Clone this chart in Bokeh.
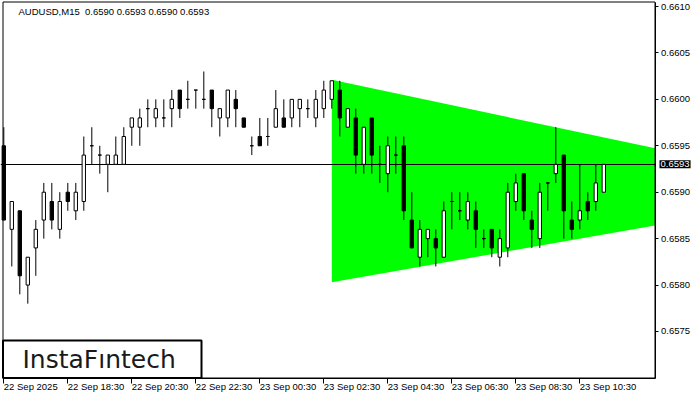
from bokeh.plotting import figure
from bokeh.models import (Range1d, FixedTicker, PrintfTickFormatter, Label,
                          BoxAnnotation, ColumnDataSource, LinearAxis)
from bokeh.embed import file_html
from bokeh.resources import INLINE

# ---------------- data (AUDUSD, M15) ----------------
opens = [0.6595, 0.6586, 0.6588, 0.6580, 0.6584, 0.6587, 0.6589, 0.6586, 0.6590, 0.6588,
         0.6589, 0.6595, 0.6594, 0.6593, 0.6593, 0.6593, 0.6597, 0.6597, 0.6599, 0.6598,
         0.6598, 0.6599, 0.6601, 0.6600, 0.6601, 0.6600, 0.6601, 0.6598, 0.6598, 0.6600,
         0.6598, 0.6595, 0.6596, 0.6596, 0.6597, 0.6598, 0.6598, 0.6599, 0.6599, 0.6598,
         0.6599, 0.6600, 0.6601, 0.6597, 0.6598, 0.6593, 0.6598, 0.6593, 0.6592, 0.6594,
         0.6595, 0.6587, 0.6583, 0.6585, 0.6585, 0.6583, 0.6589, 0.6588, 0.6587, 0.6588,
         0.6585, 0.6586, 0.6583, 0.6584, 0.6589, 0.6592, 0.6587, 0.6585, 0.6591, 0.6592,
         0.6594, 0.6587, 0.6587, 0.6589, 0.6589, 0.6590]
highs = [0.6597, 0.6589, 0.6588, 0.6583, 0.6587, 0.6591, 0.6591, 0.6590, 0.6591, 0.6591,
         0.6596, 0.6597, 0.6595, 0.6594, 0.6596, 0.6597, 0.6598, 0.6599, 0.6600, 0.6600,
         0.6600, 0.6601, 0.6601, 0.6602, 0.6601, 0.6603, 0.6601, 0.6599, 0.6601, 0.6601,
         0.6598, 0.6596, 0.6598, 0.6598, 0.6601, 0.6600, 0.6600, 0.6600, 0.6600, 0.6601,
         0.6602, 0.6602, 0.6602, 0.6599, 0.6599, 0.6597, 0.6598, 0.6595, 0.6596, 0.6596,
         0.6596, 0.6590, 0.6587, 0.6586, 0.6586, 0.6589, 0.6590, 0.6590, 0.6590, 0.6589,
         0.6586, 0.6586, 0.6586, 0.6591, 0.6592, 0.6592, 0.6588, 0.6591, 0.6591, 0.6597,
         0.6594, 0.6589, 0.6593, 0.6590, 0.6593, 0.6593]
lows = [0.6587, 0.6582, 0.6579, 0.6578, 0.6581, 0.6585, 0.6586, 0.6585, 0.6588, 0.6587,
        0.6588, 0.6593, 0.6592, 0.6590, 0.6593, 0.6593, 0.6595, 0.6595, 0.6597, 0.6597,
        0.6597, 0.6597, 0.6598, 0.6599, 0.6599, 0.6599, 0.6597, 0.6596, 0.6597, 0.6597,
        0.6597, 0.6594, 0.6595, 0.6595, 0.6597, 0.6597, 0.6597, 0.6597, 0.6598, 0.6597,
        0.6598, 0.6599, 0.6596, 0.6597, 0.6592, 0.6592, 0.6592, 0.6591, 0.6590, 0.6592,
        0.6587, 0.6584, 0.6582, 0.6583, 0.6582, 0.6583, 0.6586, 0.6587, 0.6586, 0.6584,
        0.6584, 0.6583, 0.6582, 0.6583, 0.6588, 0.6587, 0.6584, 0.6584, 0.6588, 0.6591,
        0.6585, 0.6585, 0.6586, 0.6587, 0.6588, 0.6590]
closes = [0.6587, 0.6589, 0.6581, 0.6583, 0.6586, 0.6590, 0.6587, 0.6589, 0.6589, 0.6590,
          0.6594, 0.6595, 0.6594, 0.6594, 0.6594, 0.6596, 0.6598, 0.6598, 0.6599, 0.6599,
          0.6598, 0.6600, 0.6599, 0.6600, 0.6601, 0.6600, 0.6599, 0.6599, 0.6601, 0.6599,
          0.6597, 0.6595, 0.6595, 0.6596, 0.6599, 0.6597, 0.6600, 0.6600, 0.6599, 0.6600,
          0.6601, 0.6602, 0.6598, 0.6599, 0.6594, 0.6597, 0.6594, 0.6593, 0.6595, 0.6594,
          0.6588, 0.6584, 0.6586, 0.6586, 0.6584, 0.6588, 0.6589, 0.6588, 0.6589, 0.6586,
          0.6585, 0.6584, 0.6585, 0.6590, 0.6591, 0.6588, 0.6586, 0.6590, 0.6591, 0.6593,
          0.6588, 0.6586, 0.6588, 0.6588, 0.6591, 0.6593]

tick_bars = [0, 8, 16, 24, 32, 40, 48, 56, 64, 72]
tick_labels = ["22 Sep 2025", "22 Sep 18:30", "22 Sep 20:30", "22 Sep 22:30",
               "23 Sep 00:30", "23 Sep 02:30", "23 Sep 04:30", "23 Sep 06:30",
               "23 Sep 08:30", "23 Sep 10:30"]
price_ticks = [0.6575, 0.6580, 0.6585, 0.6590, 0.6595, 0.6600, 0.6605, 0.6610]
last_price = 0.6593
title_text = "AUDUSD,M15\u00a0 0.6590 0.6593 0.6590 0.6593"

# symmetrical triangle pattern (bar index, price)
triangle_x = [41, 106.3, 41]
triangle_y = [0.66021, 0.65902, 0.65803]

# ---------------- layout helpers (canvas pixel -> data) ----------------
W, H = 692, 392
PX_BAR = 8.0
PX_UNIT = 92857.0
x_start = -3.3 / PX_BAR
x_end = x_start + W / PX_BAR
y_end = 0.6610 + 6 / PX_UNIT
y_start = y_end - H / PX_UNIT


def dx(px):
    return x_start + px / PX_BAR


def dy(py):
    return y_end - py / PX_UNIT


FONT = "Liberation Sans"
FS = "9.5px"

p = figure(width=W, height=H, x_range=Range1d(x_start, x_end),
           y_range=Range1d(y_start, y_end), output_backend="svg",
           toolbar_location=None, x_axis_location=None, y_axis_location=None,
           min_border=0)
p.xgrid.visible = False
p.ygrid.visible = False
p.outline_line_color = None
p.background_fill_color = "white"
p.border_fill_color = "white"

frame_left = dx(2.5)
frame_top = dy(1.5)
frame_right = dx(654.5)
frame_bottom = dy(377.5)

# price axis (right side of the chart frame)
ya = LinearAxis(fixed_location=frame_right, ticker=FixedTicker(ticks=price_ticks),
                formatter=PrintfTickFormatter(format="%.4f"),
                bounds=(frame_bottom, frame_top))
ya.major_tick_out = 3
ya.major_tick_in = 0
ya.minor_tick_out = 0
ya.minor_tick_in = 0
ya.major_label_standoff = 3
ya.major_label_text_font = FONT
ya.major_label_text_font_size = FS
ya.major_label_text_color = "black"
ya.axis_line_color = "black"
ya.major_tick_line_color = "black"
p.add_layout(ya, "right")

# time axis (ticks only, labels drawn left-aligned below)
xa = LinearAxis(fixed_location=frame_bottom, ticker=FixedTicker(ticks=tick_bars),
                bounds=(frame_left, frame_right))
xa.major_tick_out = 5
xa.major_tick_in = 0
xa.minor_tick_out = 0
xa.minor_tick_in = 0
xa.major_label_text_color = None
xa.axis_line_color = "black"
xa.major_tick_line_color = "black"
p.add_layout(xa, "below")

# triangle
p.patch(triangle_x, triangle_y, fill_color="#00FF00", line_color=None)
# last price line
p.hspan(y=[last_price], line_color="black", line_width=1)
# white area right of the chart frame (price scale)
p.quad(left=[frame_right], right=[x_end], bottom=[y_start], top=[y_end],
       fill_color="white", line_color=None)

# candles
xs = list(range(len(opens)))
colors = ["white" if c > o else "black" for o, c in zip(opens, closes)]
src = ColumnDataSource(dict(x=xs, o=opens, h=highs, l=lows, c=closes,
                            top=[max(o, c) for o, c in zip(opens, closes)],
                            bot=[min(o, c) for o, c in zip(opens, closes)],
                            col=colors))
p.segment(x0="x", x1="x", y0="l", y1="h", source=src, line_color="black", line_width=1)
p.vbar(x="x", top="top", bottom="bot", width=0.42, source=src,
       fill_color="col", line_color="black", line_width=1)

# chart frame
p.add_layout(BoxAnnotation(left=frame_left, right=frame_right, top=frame_top,
                           bottom=frame_bottom, fill_color=None, line_color="black",
                           line_width=1, line_alpha=1))

# time labels (left aligned at tick)
for b, t in zip(tick_bars, tick_labels):
    p.add_layout(Label(x=b, y=dy(386), text=t, text_align="left", text_baseline="middle",
                       text_font=FONT, text_font_size=FS, text_color="black"))

# title
p.add_layout(Label(x=dx(18), y=dy(11), text=title_text, text_align="left",
                   text_baseline="middle", text_font=FONT, text_font_size=FS,
                   text_color="black"))

# last price tag
p.add_layout(Label(x=dx(659), y=last_price, text="%.4f" % last_price, text_align="left",
                   text_baseline="middle", text_font=FONT, text_font_size=FS,
                   text_color="white", background_fill_color="black", padding=1))

# logo
p.add_layout(BoxAnnotation(left=frame_left, right=dx(201), bottom=frame_bottom, top=dy(340),
                           fill_color="white", fill_alpha=1, line_color="black",
                           line_width=2, line_alpha=1))
p.add_layout(Label(x=dx(22), y=dy(359), text="InstaF\u0131ntech", text_align="left",
                   text_baseline="middle", text_font="DejaVu Sans", text_font_size="25px",
                   text_color="#1a1a1a"))

open("out.html", "w").write(file_html(p, INLINE))
